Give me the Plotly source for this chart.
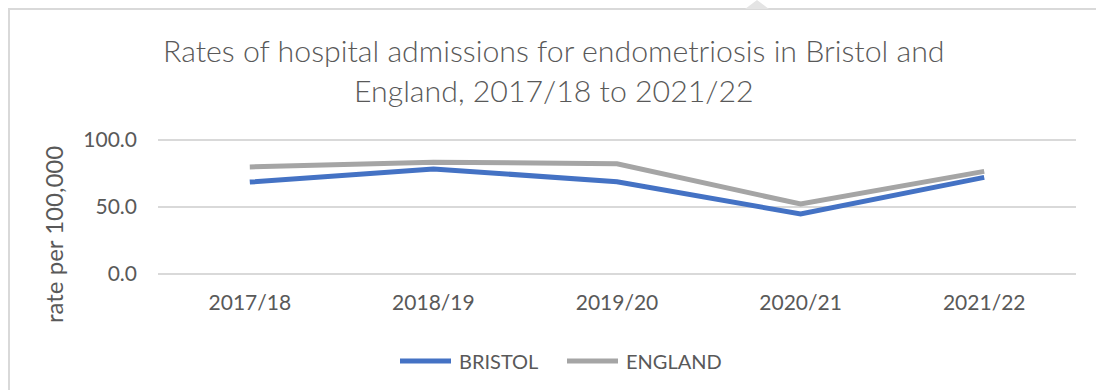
import plotly.graph_objects as go

# Financial years on the x axis
years = ["2017/18", "2018/19", "2019/20", "2020/21", "2021/22"]

# Hospital admission rates per 100,000
bristol = [68.6, 78.4, 68.9, 44.8, 72.1]
england = [79.9, 83.4, 82.3, 52.2, 76.6]

y_ticks = [0, 50, 100]
y_tick_labels = ["0.0", "50.0", "100.0"]

series = [("BRISTOL", bristol, "#4472C4"), ("ENGLAND", england, "#A5A5A5")]

W, H = 1096, 390
# small padding around 0 and 100 so their gridlines are not clipped
Y_PAD = 1.5
M_L, M_R, M_T, M_B = 158, 20, 138, 114
PW, PH = W - M_L - M_R, H - M_T - M_B

TEXT = "#595959"
GRID = "#d9d9d9"
FONT = "Lato"


def px(x):
    return (x - M_L) / PW


def py(y):
    return (H - M_B - y) / PH


fig = go.Figure()
for name, values, color in series:
    fig.add_trace(go.Scatter(x=years, y=values, name=name, mode="lines",
                             line=dict(color=color, width=5)))

fig.update_layout(
    width=W, height=H,
    margin=dict(l=M_L, r=M_R, t=M_T, b=M_B),
    paper_bgcolor="white", plot_bgcolor="white",
    font=dict(family=FONT, color=TEXT),
    showlegend=False,
)

fig.update_xaxes(type="category", range=[-0.5, 4.5], showgrid=False,
                 showline=False, zeroline=False, ticks="",
                 tickfont=dict(size=21, color=TEXT), ticklabelstandoff=12)
fig.update_yaxes(range=[-Y_PAD, 100 + Y_PAD], tickvals=y_ticks,
                 ticktext=y_tick_labels,
                 showgrid=True, gridcolor=GRID, gridwidth=1.5,
                 zeroline=False, showline=False, ticks="",
                 tickfont=dict(size=21, color=TEXT), ticklabelstandoff=20)

# Two-line chart title
title_lines = ["Rates of hospital admissions for endometriosis in Bristol and",
               "England, 2017/18 to 2021/22"]
for line, yc in zip(title_lines, [50, 90]):
    fig.add_annotation(text=line, xref="paper", yref="paper",
                       x=px(554), y=py(yc), xanchor="center", yanchor="middle",
                       showarrow=False,
                       font=dict(size=30.3, color=TEXT, family=FONT, weight=300))

# Vertical axis title
fig.add_annotation(text="rate per 100,000", textangle=-90,
                   xref="paper", yref="paper", x=px(53), y=py(235),
                   xanchor="center", yanchor="middle", showarrow=False,
                   font=dict(size=24, color=TEXT, family=FONT))

# Legend below the plot: line sample followed by series name
legend_x = [(398, 453), (565, 620)]
for (name, _, color), (x0, x1) in zip(series, legend_x):
    fig.add_shape(type="line", xref="paper", yref="paper",
                  x0=px(x0 + 2), x1=px(x1 - 2), y0=py(361), y1=py(361),
                  line=dict(color=color, width=5))
    fig.add_annotation(text=name, xref="paper", yref="paper",
                       x=px(x1 + 4), y=py(361), xanchor="left", yanchor="middle",
                       showarrow=False, font=dict(size=20, color=TEXT, family=FONT))

# Chart frame edges and the small handle on top
fig.add_shape(type="line", xref="paper", yref="paper",
              x0=px(9), x1=px(9), y0=py(9), y1=py(H + 5),
              line=dict(color=GRID, width=2))
fig.add_shape(type="line", xref="paper", yref="paper",
              x0=px(8), x1=px(W + 5), y0=py(9), y1=py(9),
              line=dict(color=GRID, width=2))
fig.add_shape(type="path", xref="paper", yref="paper",
              path=f"M{px(745)},{py(9)} L{px(757)},{py(0)} L{px(769)},{py(9)} Z",
              fillcolor="#e4e4e4", line=dict(width=0))

fig.write_html("out.html")
